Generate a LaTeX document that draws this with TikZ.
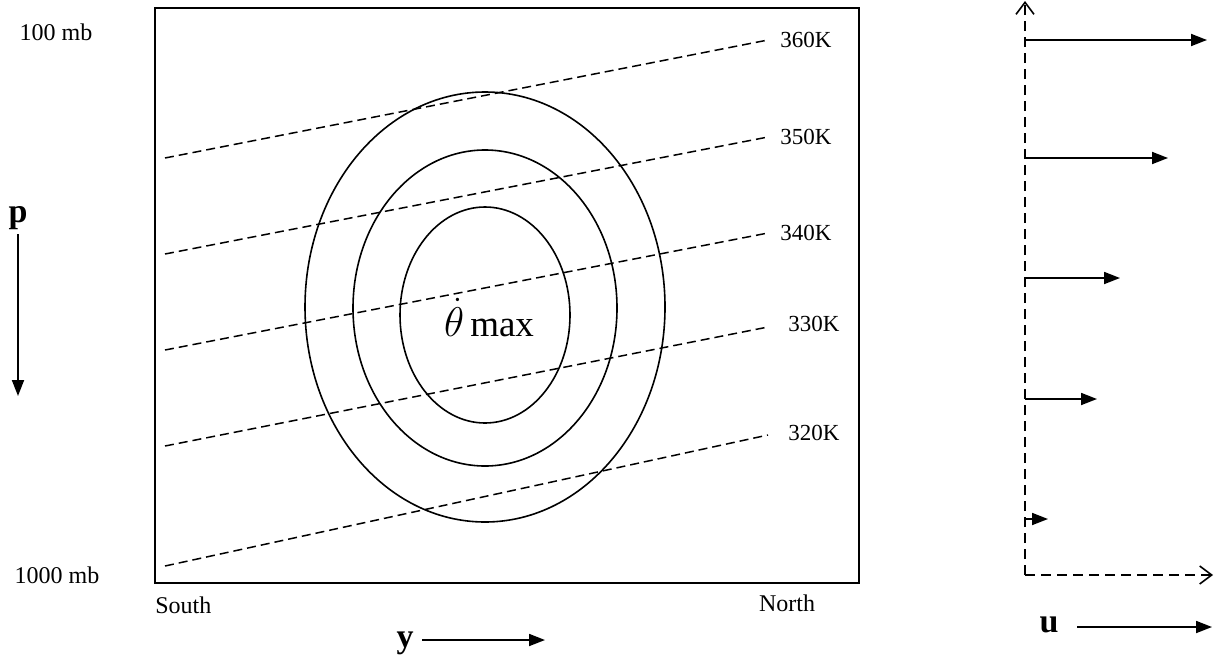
\documentclass[tikz,border=0pt]{standalone}
\usepackage{fontspec}
\setmainfont{Liberation Serif}
\usetikzlibrary{arrows.meta}
\begin{document}
\begin{tikzpicture}[x=0.5pt,y=-0.5pt,
  frame/.style={line width=1pt},
  isen/.style={dash pattern=on 4.5pt off 2.5pt, line width=0.75pt},
  contour/.style={line width=0.8pt},
  lbl/.style={font=\fontsize{12}{14}\selectfont, inner sep=0pt},
  klbl/.style={font=\fontsize{11.5}{13}\selectfont, anchor=west, inner sep=0pt},
  bigl/.style={font=\fontsize{17}{19}\selectfont\bfseries, inner sep=0pt},
  arr/.style={-{Triangle[length=8pt,width=6pt]}, line width=0.9pt},
  axisl/.style={dash pattern=on 5pt off 3pt, line width=0.8pt, -{Straight Barb[length=6pt,width=9pt,line width=0.8pt]}}
]
\useasboundingbox (0,0) rectangle (1219,669);

% frame
\draw[frame] (155,8) rectangle (859,583);

% contours of heating
\draw[contour] (485,307) ellipse [x radius=180, y radius=215];
\draw[contour] (485,308) ellipse [x radius=132, y radius=158];
\draw[contour] (485,315) ellipse [x radius=85, y radius=108];
\node[font=\fontsize{18.5}{20}\selectfont, inner sep=0pt] (tmax) at (489,318) {{\fontsize{21}{23}\selectfont$\dot{\theta}$}\,max};

% isentropes
\coordinate (a360) at (165,158); \coordinate (b360) at (768,40);
\coordinate (a350) at (165,254); \coordinate (b350) at (768,137);
\coordinate (a340) at (165,350); \coordinate (b340) at (768,233);
\coordinate (a330) at (165,446); \coordinate (b330) at (768,327);
\coordinate (a320) at (165,566); \coordinate (b320) at (768,435);
\draw[isen] (a360) -- (b360);
\draw[isen] (a350) -- (b350);
\draw[isen] (a340) -- (b340);
\draw[isen] (a330) -- (b330);
\draw[isen] (a320) -- (b320);
\node[klbl] (k360) at (780,40) {360K};
\node[klbl] (k350) at (780,137) {350K};
\node[klbl] (k340) at (780,233) {340K};
\node[klbl] (k330) at (788,324) {330K};
\node[klbl] (k320) at (788,433) {320K};

% left labels
\node[lbl] (p100) at (56,32) {100 mb};
\node[lbl] (p1000) at (57,575) {1000 mb};
\node[bigl] (p) at (18,218) {p};
\coordinate (pa) at (18,234); \coordinate (pb) at (18,396);
\draw[arr] (pa) -- (pb);

% bottom labels
\node[lbl, anchor=west] (south) at (155,605) {South};
\node[lbl] (north) at (787,603) {North};
\node[bigl] (y) at (405,643) {y};
\coordinate (ya) at (422,640); \coordinate (yb) at (545,640);
\draw[arr] (ya) -- (yb);

% right wind profile
\coordinate (o) at (1025,575);
\coordinate (top) at (1025,1);
\coordinate (rend) at (1213,575);
\draw[axisl] (o) -- (top);
\draw[axisl] (o) -- (rend);
\coordinate (w1) at (1025,40);  \coordinate (e1) at (1207,40);
\coordinate (w2) at (1025,158); \coordinate (e2) at (1168,158);
\coordinate (w3) at (1025,278); \coordinate (e3) at (1120,278);
\coordinate (w4) at (1025,399); \coordinate (e4) at (1097,399);
\coordinate (w5) at (1025,519); \coordinate (e5) at (1048,519);
\draw[arr] (w1) -- (e1);
\draw[arr] (w2) -- (e2);
\draw[arr] (w3) -- (e3);
\draw[arr] (w4) -- (e4);
\draw[arr] (w5) -- (e5);
\node[bigl] (u) at (1049,625) {u};
\coordinate (ua) at (1077,627); \coordinate (ub) at (1212,627);
\draw[arr] (ua) -- (ub);
\end{tikzpicture}
\end{document}
